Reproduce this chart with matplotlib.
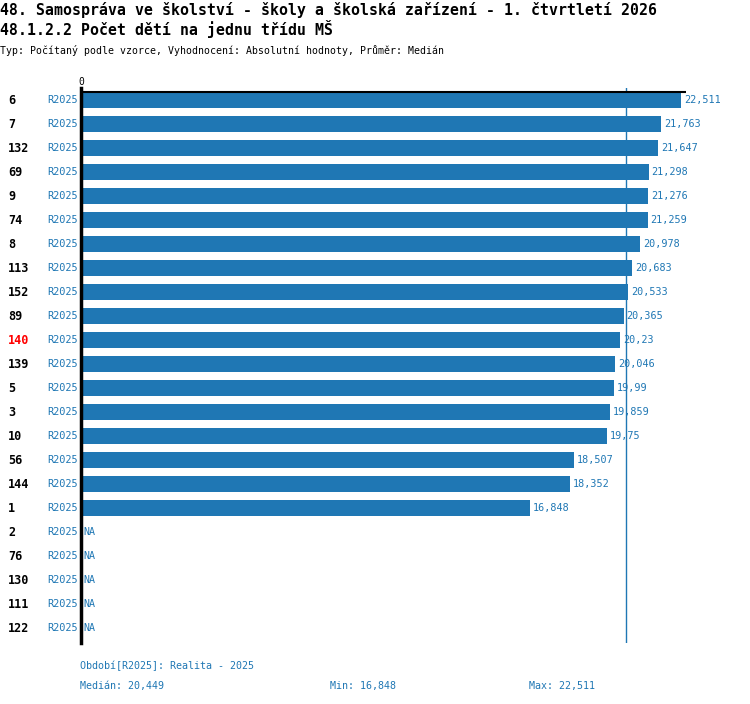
import numpy as np
import matplotlib
matplotlib.use('Agg')
import matplotlib.pyplot as plt
from matplotlib.transforms import blended_transform_factory

plt.rcParams['font.family'] = ['DejaVu Sans Mono']

# data
ids = ['6', '7', '132', '69', '9', '74', '8', '113', '152', '89', '140', '139',
       '5', '3', '10', '56', '144', '1', '2', '76', '130', '111', '122']
values = [22.511, 21.763, 21.647, 21.298, 21.276, 21.259, 20.978, 20.683, 20.533,
          20.365, 20.23, 20.046, 19.99, 19.859, 19.75, 18.507, 18.352, 16.848,
          np.nan, np.nan, np.nan, np.nan, np.nan]
period = 'R2025'
highlight = '140'
median = 20.449
vmin = 16.848
vmax = 22.511

title1 = '48. Samospráva ve školství - školy a školská zařízení - 1. čtvrtletí 2026'
title2 = '48.1.2.2 Počet dětí na jednu třídu MŠ'
subtitle = 'Typ: Počítaný podle vzorce, Vyhodnocení: Absolutní hodnoty, Průměr: Medián'

blue = '#1f77b4'


def fmt(v):
    return f'{v:.3f}'.rstrip('0').rstrip('.').replace('.', ',')


W, H = 750, 704
fig = plt.figure(figsize=(W / 100, H / 100), dpi=100)
ax = fig.add_axes([81 / W, (H - 643) / H, 605 / W, 555 / H])

y = np.arange(len(ids))
vals = np.array(values)
ax.barh(y, np.nan_to_num(vals), height=0.67, color=blue)
ax.set_xlim(0, 22.70)
ax.set_ylim(22.625, -0.5)

# median line and top line
ax.axvline(median, color=blue, lw=1)
ax.axhline(-0.34, color='black', lw=1.5)

for s in ['top', 'right', 'bottom']:
    ax.spines[s].set_visible(False)
ax.spines['left'].set_linewidth(2.5)
ax.set_yticks([])
ax.xaxis.tick_top()
ax.set_xticks([0])
ax.set_xticklabels(['0'], fontsize=7)
ax.tick_params(axis='x', length=0, pad=1)

tr = blended_transform_factory(fig.transFigure, ax.transData)
for i, (lab, v) in enumerate(zip(ids, values)):
    ax.text(8 / W, i, lab, transform=tr, ha='left', va='center',
            fontsize=8.5, fontweight='bold',
            color='red' if lab == highlight else 'black')
    ax.text(78 / W, i, period, transform=tr, ha='right', va='center',
            fontsize=7.4, color=blue)
    if np.isnan(v):
        ax.annotate('NA', (0, i), xytext=(2, 0), textcoords='offset points',
                    ha='left', va='center', fontsize=7.2, color=blue)
    else:
        ax.annotate(fmt(v), (v, i), xytext=(2, 0), textcoords='offset points',
                    ha='left', va='center', fontsize=7.3, color=blue)

# titles
fig.text(0, 1 - 10 / H, title1, fontsize=10.75, fontweight='bold', va='center', ha='left')
fig.text(0, 1 - 29 / H, title2, fontsize=10.75, fontweight='bold', va='center', ha='left')
fig.text(0, 1 - 50 / H, subtitle, fontsize=7.1, va='center', ha='left')

# footer
fig.text(80 / W, 1 - 666 / H, f'Období[{period}]: Realita - 2025', fontsize=7.2,
         color=blue, va='center', ha='left')
fig.text(80 / W, 1 - 686 / H, f'Medián: {median:,.3f}'.replace('.', ','), fontsize=7.2,
         color=blue, va='center', ha='left')
fig.text(330 / W, 1 - 686 / H, f'Min: {fmt(vmin)}', fontsize=7.2,
         color=blue, va='center', ha='left')
fig.text(529 / W, 1 - 686 / H, f'Max: {fmt(vmax)}', fontsize=7.2,
         color=blue, va='center', ha='left')

fig.savefig('out.png', dpi=100)
